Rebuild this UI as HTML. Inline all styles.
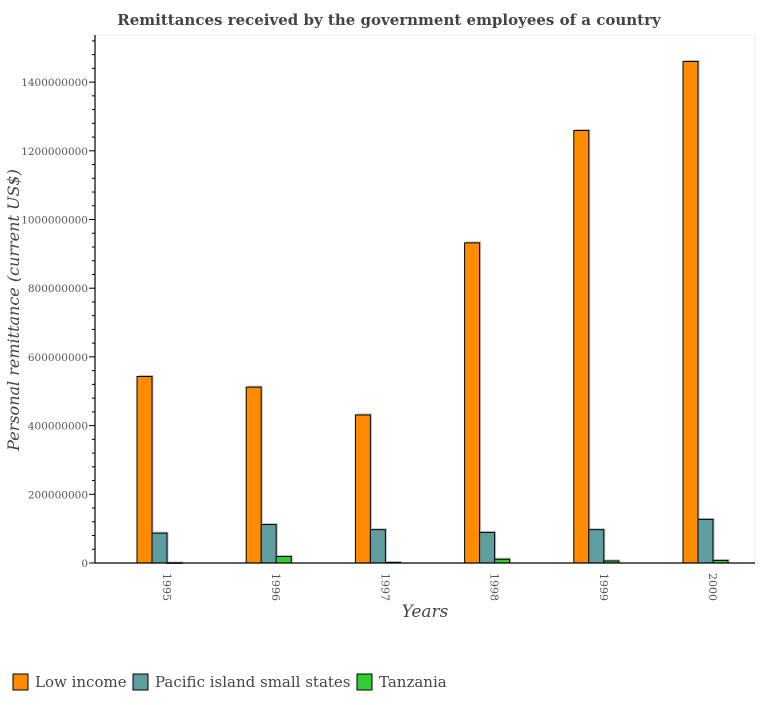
<!DOCTYPE html>
<html><head><meta charset="utf-8"><style>
body{margin:0;background:#fff;}
svg text{font-family:"DejaVu Serif","Liberation Serif",serif;}
</style></head><body>
<svg id="chart" width="763" height="700" viewBox="0 0 763 700" xmlns="http://www.w3.org/2000/svg">
<text x="389" y="25" text-anchor="middle" font-size="15" font-weight="bold" fill="#444">Remittances received by the government employees of a country</text>
<rect x="95" y="35" width="660" height="528" fill="#fff" stroke="#eee"/>
<g id="bars"></g>
<g id="axes"></g>
<text x="425" y="617" text-anchor="middle" font-size="17" font-style="italic" fill="#444">Years</text>
<text transform="translate(19,310) rotate(-90)" text-anchor="middle" font-size="16" font-style="italic" fill="#444">Personal remittance (current US$)</text>
<g>
<rect x="13" y="674" width="15" height="16" fill="#FF8C00" stroke="#000"/>
<text x="35" y="687" font-size="15" fill="#444">Low income</text>
<rect x="133" y="674" width="15" height="16" fill="#5F9EA0" stroke="#000"/>
<text x="155" y="687" font-size="15" fill="#444">Pacific island small states</text>
<rect x="357" y="674" width="15" height="16" fill="#32CD32" stroke="#000"/>
<text x="379" y="687" font-size="15" fill="#444">Tanzania</text>
</g>
</svg>
<script>
const years = ["1995","1996","1997","1998","1999","2000"];
const lowIncome = [543, 512, 431, 932, 1259, 1460];
const pacific = [87, 112, 97, 89, 97, 127];
const tanzania = [0.3, 19, 1.5, 11, 6, 7.5];
const yTicks = [0, 200, 400, 600, 800, 1000, 1200, 1400];

const NS = "http://www.w3.org/2000/svg";
const x0 = 95, x1 = 755, yZero = 563, pxPerM = 68.7 / 200;
const y = v => yZero - v * pxPerM;
const groupCenter = i => 167 + i * 109.2;
const barW = 15;
function mk(tag, attrs, parent){const e=document.createElementNS(NS,tag);for(const k in attrs)e.setAttribute(k,attrs[k]);parent.appendChild(e);return e;}
const bars = document.getElementById('bars');
const axes = document.getElementById('axes');
const series = [
  {vals: lowIncome, color: "#FF8C00", off: -2, name: "low-income"},
  {vals: pacific, color: "#5F9EA0", off: -1, name: "pacific"},
  {vals: tanzania, color: "#32CD32", off: 0, name: "tanzania"}
];
series.forEach(s => {
  s.vals.forEach((v, i) => {
    const bx = groupCenter(i) + s.off * barW;
    const top = y(v);
    const h = Math.max(yZero - top, 0.5);
    const sh = mk('rect', {x: bx+1.5, y: top-1.5, width: barW, height: h+1.5, fill: "#999", opacity: "0.6"}, bars);
    
    
    const r = mk('rect', {x: bx, y: top, width: barW, height: h, fill: s.color, stroke: "#000", "stroke-width": "1"}, bars);
    
    
  });
});
const xa = mk('line', {x1: x0, y1: yZero, x2: x1, y2: yZero, stroke: "#000", "stroke-width": "1.2"}, axes);


const ya = mk('line', {x1: x0, y1: 35, x2: x0, y2: yZero, stroke: "#000", "stroke-width": "1.2"}, axes);


for (let m = 0; m <= 1520; m += 40) {
  const major = m % 200 === 0;
  const t = mk('line', {x1: x0 - (major ? 6 : 3), y1: y(m), x2: x0, y2: y(m), stroke: "#000"}, axes);
  
  
}
yTicks.forEach(v => {
  const t = mk('text', {x: 88, y: y(v) + 4, "text-anchor": "end", "font-size": "10.5", fill: "#555"}, axes);
  t.textContent = v === 0 ? "0" : String(v * 1000000);
  
  
});
years.forEach((yr, i) => {
  const cx = groupCenter(i);
  const t = mk('text', {transform: `translate(${cx - 4},573) rotate(90)`, "font-size": "11", fill: "#555"}, axes);
  t.textContent = yr;
  
  
});
</script>
</body></html>
